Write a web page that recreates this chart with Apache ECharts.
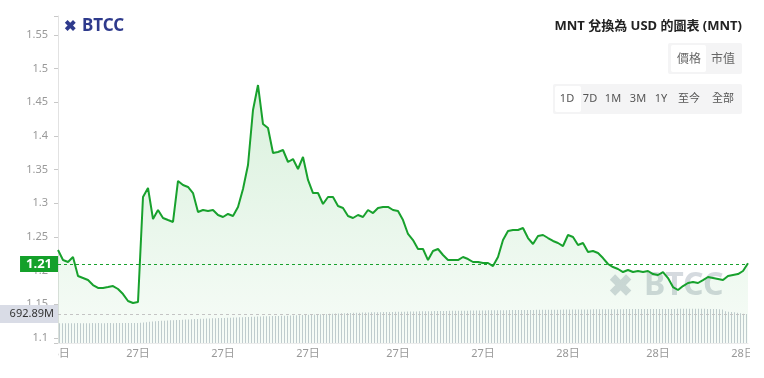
<!DOCTYPE html>
<html>
<head>
<meta charset="utf-8">
<script src="https://cdn.jsdelivr.net/npm/echarts@6/dist/echarts.min.js"></script>
<style>
  html, body { margin: 0; padding: 0; background: #fff; }
  #chart { width: 764px; height: 378px; }
</style>
</head>
<body>
<div id="chart"></div>
<script>
// MNT/USD 價格 (每 5px 一點, 讀自圖片)
const prices = [
  1.2307, 1.2158, 1.2129, 1.2203, 1.1921, 1.1891, 1.1861, 1.1787, 1.1743, 1.1743,
  1.1757, 1.1772, 1.1728, 1.1653, 1.1550, 1.1520, 1.1535, 1.3094, 1.3228, 1.2767,
  1.2901, 1.2782, 1.2752, 1.2723, 1.3332, 1.3272, 1.3243, 1.3153, 1.2871, 1.2901,
  1.2886, 1.2901, 1.2827, 1.2797, 1.2842, 1.2812, 1.2946, 1.3213, 1.3569, 1.4386,
  1.4757, 1.4178, 1.4119, 1.3748, 1.3762, 1.3792, 1.3614, 1.3658, 1.3510, 1.3688,
  1.3347, 1.3153, 1.3153, 1.2990, 1.3094, 1.3094, 1.2960, 1.2931, 1.2812, 1.2782,
  1.2827, 1.2797, 1.2901, 1.2856, 1.2931, 1.2946, 1.2946, 1.2901, 1.2886, 1.2752,
  1.2545, 1.2455, 1.2322, 1.2322, 1.2158, 1.2292, 1.2322, 1.2233, 1.2158, 1.2158,
  1.2158, 1.2203, 1.2173, 1.2129, 1.2129, 1.2114, 1.2114, 1.2069, 1.2203, 1.2455,
  1.2589, 1.2604, 1.2604, 1.2634, 1.2485, 1.2396, 1.2515, 1.2530, 1.2485, 1.2441,
  1.2411, 1.2366, 1.2530, 1.2500, 1.2381, 1.2411, 1.2277, 1.2292, 1.2262, 1.2188,
  1.2099, 1.2054, 1.2025, 1.1980, 1.2010, 1.1980, 1.1995, 1.1980, 1.1995, 1.1950,
  1.1936, 1.1980, 1.1891, 1.1757, 1.1713, 1.1772, 1.1817, 1.1832, 1.1817, 1.1861,
  1.1906, 1.1891, 1.1876, 1.1861, 1.1921, 1.1936, 1.1950, 1.1995, 1.2110
];

// 成交量 (M)
const volumes = [
  472, 470, 473, 471, 474, 472, 475, 473, 471, 474,
  473, 475, 472, 476, 474, 473, 477, 475, 474, 476,
  478, 476, 477, 479, 478, 480, 479, 482, 490, 498,
  505, 512, 520, 526, 531, 534, 538, 541, 545, 548,
  552, 556, 560, 563, 567, 571, 574, 578, 581, 584,
  587, 590, 593, 595, 597, 600, 602, 605, 608, 611,
  614, 617, 620, 623, 626, 628, 631, 634, 637, 640,
  642, 644, 646, 648, 650, 652, 654, 656, 659, 662,
  665, 668, 672, 675, 679, 682, 686, 689, 692, 695,
  698, 701, 704, 707, 710, 712, 715, 718, 720, 722,
  724, 726, 728, 730, 732, 733, 735, 737, 738, 740,
  741, 743, 744, 746, 747, 749, 750, 752, 753, 755,
  756, 757, 759, 760, 761, 762, 764, 765, 766, 767,
  768, 769, 770, 771, 772, 772, 773, 774, 775, 776,
  777, 778, 779, 780, 781, 782, 783, 783, 784, 785,
  786, 786, 787, 788, 788, 789, 790, 790, 791, 792,
  792, 793, 794, 794, 795, 796, 796, 797, 798, 798,
  799, 800, 800, 801, 802, 802, 803, 803, 804, 805,
  805, 806, 806, 807, 807, 808, 808, 809, 809, 810,
  810, 811, 811, 812, 812, 812, 813, 813, 813, 814,
  814, 814, 815, 815, 815, 815, 816, 816, 816, 816,
  816, 817, 817, 817, 816, 816, 815, 815, 814, 812,
  808, 803, 760, 748, 742, 735, 722, 710, 700, 692.89
];

// x 軸刻度 (價格序列索引) 與文字
const tickIdx = [0, 16, 33, 50, 68, 85, 102, 120, 137];
const tickText = ['26日', '27日', '27日', '27日', '27日', '27日', '28日', '28日', '28日'];

const titleText = 'MNT 兌換為 USD 的圖表 (MNT)';
const toggleLabels = ['價格', '市值'];
const rangeLabels = ['1D', '7D', '1M', '3M', '1Y', '至今', '全部'];

const FONT = "'Noto Sans', 'Noto Sans CJK TC', sans-serif";
const GREEN = '#18a12d';

const lastPrice = prices[prices.length - 1];
const lastVolume = volumes[volumes.length - 1];

const priceCats = prices.map((_, i) => {
  const k = tickIdx.indexOf(i);
  return k >= 0 ? tickText[k] : '';
});
const volCats = volumes.map((_, i) => String(i));

const chart = echarts.init(document.getElementById('chart'), null, { renderer: 'canvas' });

// 按鈕列
const toggleX = [689, 723];
const rangeX = [567, 590, 613, 638, 661, 689, 723];

const graphics = [
  // 左上 logo
  { type: 'text', left: 64, top: 19, style: { text: '✖', fill: '#2e3a8c', font: 'bold 15px ' + FONT } },
  { type: 'text', left: 82, top: 18, style: { text: 'BTCC', fill: '#2e3a8c', font: 'bold 17px ' + FONT } },
  // 標題
  { type: 'text', right: 22, top: 20, style: { text: titleText, fill: '#222', font: 'bold 13px ' + FONT, align: 'right' } },
  // 價格/市值
  { type: 'rect', shape: { x: 668, y: 43, width: 74, height: 31, r: 2 }, style: { fill: '#f4f4f5' } },
  { type: 'rect', shape: { x: 671, y: 45, width: 35, height: 27, r: 2 }, style: { fill: '#fff' } },
  // 時間範圍
  { type: 'rect', shape: { x: 553, y: 84, width: 189, height: 30, r: 2 }, style: { fill: '#f4f4f5' } },
  { type: 'rect', shape: { x: 555, y: 86, width: 26, height: 26, r: 2 }, style: { fill: '#fff' } },
  // 浮水印
  { type: 'text', left: 608, top: 272, z: 1, style: { text: '✖', fill: 'rgba(150,162,175,0.4)', font: 'bold 30px ' + FONT } },
  { type: 'text', left: 644, top: 270, z: 1, style: { text: 'BTCC', fill: 'rgba(150,162,175,0.4)', font: 'bold 32px ' + FONT } },
  // 遮住 x 軸兩端溢出文字
  { type: 'rect', z: 100, shape: { x: 0, y: 346, width: 58, height: 24 }, style: { fill: '#fff' } },
  { type: 'rect', z: 100, shape: { x: 750, y: 346, width: 14, height: 24 }, style: { fill: '#fff' } }
];
toggleLabels.forEach((t, i) => graphics.push({
  type: 'text', x: toggleX[i], y: 60, z: 10,
  style: { text: t, fill: '#666', font: '12px ' + FONT, align: 'center', verticalAlign: 'middle' }
}));
rangeLabels.forEach((t, i) => graphics.push({
  type: 'text', x: rangeX[i], y: 99, z: 10,
  style: { text: t, fill: '#555', font: '11px ' + FONT, align: 'center', verticalAlign: 'middle' }
}));

const option = {
  animation: false,
  backgroundColor: '#fff',
  textStyle: { fontFamily: FONT },
  grid: { left: 58, right: 16, top: 16, bottom: 35 },
  xAxis: [
    {
      type: 'category',
      data: priceCats,
      boundaryGap: false,
      axisLine: { show: true, lineStyle: { color: '#ececec' } },
      axisTick: { show: false },
      axisLabel: {
        color: '#999',
        fontSize: 11,
        margin: 5,
        interval: (i) => tickIdx.includes(i)
      },
      splitLine: { show: false }
    },
    {
      type: 'category',
      data: volCats,
      boundaryGap: true,
      show: false
    }
  ],
  yAxis: [
    {
      type: 'value',
      min: 1.0926,
      max: 1.5782,
      splitNumber: 10,
      axisLine: { show: true, lineStyle: { color: '#e2e2e2' } },
      axisTick: { show: true, length: 4, lineStyle: { color: '#c8c8c8' } },
      axisLabel: {
        color: '#999',
        fontSize: 11,
        margin: 10,
        formatter: (v) => {
          const k = v * 20;
          if (Math.abs(k - Math.round(k)) > 1e-6) return '';
          return String(Math.round(v * 100) / 100);
        }
      },
      splitLine: { show: false }
    },
    {
      type: 'value',
      min: 0,
      max: 7813,
      show: false
    }
  ],
  series: [
    {
      name: 'volume',
      type: 'bar',
      xAxisIndex: 1,
      yAxisIndex: 1,
      data: volumes,
      barWidth: 1,
      itemStyle: { color: '#c6cdd4' },
      silent: true,
      markLine: {
        silent: true,
        symbol: 'none',
        lineStyle: { color: '#c4c4c4', type: [3, 3], width: 1 },
        label: {
          position: 'start',
          distance: 0,
          formatter: () => lastVolume.toFixed(2) + 'M',
          color: '#333',
          fontSize: 11,
          fontFamily: FONT,
          backgroundColor: '#d9dce6',
          padding: [4, 4, 3, 11]
        },
        data: [{ yAxis: lastVolume }]
      }
    },
    {
      name: 'price',
      type: 'line',
      data: prices,
      showSymbol: false,
      smooth: false,
      lineStyle: { color: GREEN, width: 2 },
      itemStyle: { color: GREEN },
      areaStyle: {
        origin: 'start',
        color: new echarts.graphic.LinearGradient(0, 0, 0, 1, [
          { offset: 0, color: 'rgba(30,170,50,0.24)' },
          { offset: 1, color: 'rgba(30,170,50,0.05)' }
        ])
      },
      markLine: {
        silent: true,
        symbol: 'none',
        lineStyle: { color: GREEN, type: [3, 3], width: 1 },
        label: {
          position: 'start',
          distance: 0,
          formatter: () => lastPrice.toFixed(2),
          color: '#fff',
          fontWeight: 'bold',
          fontSize: 13,
          fontFamily: FONT,
          backgroundColor: '#14a02a',
          padding: [2, 6, 1, 6]
        },
        data: [{ yAxis: lastPrice }]
      }
    }
  ],
  graphic: graphics
};

chart.setOption(option);
</script>
</body>
</html>
